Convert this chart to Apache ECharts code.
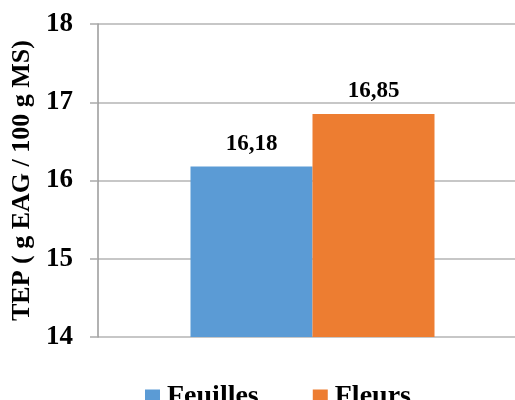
<!DOCTYPE html>
<html><head><meta charset="utf-8">
<script src="https://cdn.jsdelivr.net/npm/echarts@6/dist/echarts.min.js"></script>
<style>html,body{margin:0;padding:0;background:#fff;overflow:hidden;width:515px;height:400px}#c{width:527px;height:400px}</style>
</head><body><div id="c"></div>
<script>
const categories = [''];
const seriesNames = ['Feuilles', 'Fleurs'];
const feuilles = [16.18];
const fleurs = [16.85];
const yTicks = [14, 15, 16, 17, 18];
const colors = ['#5B9BD5', '#ED7D31'];
const F = 'Liberation Serif';
const chart = echarts.init(document.getElementById('c'), null, {renderer: 'canvas'});
const lbl = {
  show: true, position: 'top', distance: 11,
  fontFamily: F, fontWeight: 'bold', fontSize: 23, color: '#000',
  formatter: p => p.value.toFixed(2).replace('.', ',')
};
chart.setOption({
  animation: false,
  color: colors,
  grid: {left: 98, right: 0, top: 24, bottom: 63},
  legend: {
    data: seriesNames, left: 140, top: 378, itemWidth: 15, itemHeight: 15,
    itemGap: 54, icon: 'rect',
    textStyle: {fontFamily: F, fontWeight: 'bold', fontSize: 28, color: '#000', padding: [0, 0, 0, 2]}
  },
  xAxis: {
    type: 'category', data: categories,
    axisLine: {show: false}, axisTick: {show: false}, axisLabel: {show: false}
  },
  yAxis: {
    type: 'value', min: yTicks[0], max: yTicks[yTicks.length - 1], interval: 1,
    name: 'TEP ( g EAG / 100 g MS)', nameLocation: 'middle', nameGap: 59,
    nameTextStyle: {fontFamily: F, fontWeight: 'bold', fontSize: 26, color: '#000'},
    axisLine: {show: true, lineStyle: {color: '#999', width: 1.5}},
    axisTick: {show: true, length: 8, lineStyle: {color: '#aaa', width: 1.5}},
    axisLabel: {margin: 25, fontFamily: F, fontWeight: 'bold', fontSize: 27, color: '#000'},
    splitLine: {lineStyle: {color: '#b4b4b4', width: 1.5}}
  },
  series: [
    {name: seriesNames[0], type: 'bar', data: feuilles, barWidth: 122, barGap: '0%', label: lbl},
    {name: seriesNames[1], type: 'bar', data: fleurs, barWidth: 122, barGap: '0%', label: lbl}
  ]
});
</script></body></html>
